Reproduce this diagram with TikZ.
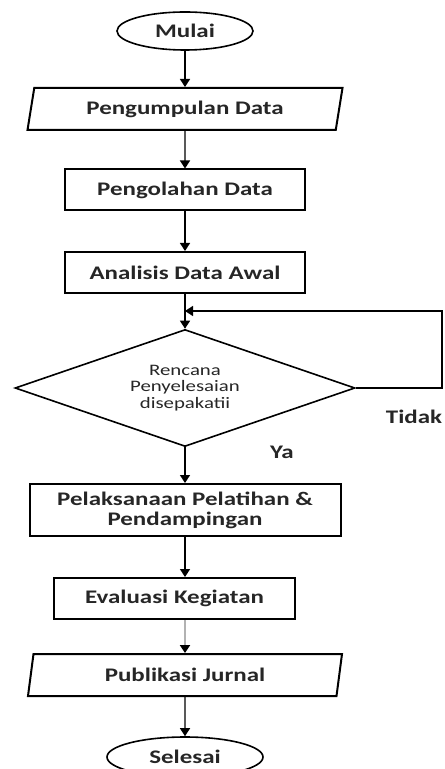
\documentclass[tikz,border=0pt]{standalone}
\usepackage{fontspec}
\setmainfont{Carlito}[FakeStretch=1.3]
\usepackage{tikz}
\usetikzlibrary{shapes.geometric, arrows.meta}

\tikzset{
  teks/.style={text=black!85, font=\bfseries\fontsize{9.6}{10}\selectfont, align=center, inner sep=0pt},
  kotak/.style={teks, draw, line width=1pt, minimum height=20.5pt},
  masukan/.style={teks, draw, line width=1pt, trapezium, trapezium left angle=68, trapezium right angle=112,
    trapezium stretches body, minimum height=21pt},
  terminal/.style={teks, draw, line width=0.8pt, ellipse, minimum height=19pt},
  keputusan/.style={teks, draw, line width=0.8pt, diamond, shape aspect=2.9, minimum width=170pt,
    minimum height=58.5pt, font=\fontsize{8}{8.3}\selectfont},
  panah/.style={line width=0.7pt, -{Triangle[length=4pt,width=5pt]}}
}

\begin{document}
\begin{tikzpicture}[x=0.5pt, y=-0.5pt]
\useasboundingbox (0,0) rectangle (444,769);
\node[terminal, minimum width=68pt] (mulai) at (185,31) {Mulai};
\node[masukan, minimum width=157.5pt] (kumpul) at (185,109) {Pengumpulan Data};
\node[kotak, minimum width=120pt] (olah) at (185,190) {Pengolahan Data};
\node[kotak, minimum width=120pt] (analisis) at (185,272.5) {Analisis Data Awal};
\node[keputusan] (putus) at (185,388) {Rencana\\Penyelesaian\\disepakatii};
\node[teks] (tidak) at (414,417) {Tidak};
\node[teks] (ya) at (282,452) {Ya};
\node[kotak, minimum width=155.5pt, minimum height=26pt] (laksana) at (185,510) {Pelaksanaan Pelatihan \&\\Pendampingan};
\node[kotak, minimum width=120.5pt] (evaluasi) at (174.5,598.5) {Evaluasi Kegiatan};
\node[masukan, minimum width=157pt] (publikasi) at (185,675) {Publikasi Jurnal};
\node[terminal, minimum width=78pt, minimum height=20pt] (selesai) at (185,757) {Selesai};

\coordinate (gabung) at (185,311);
\coordinate (sudut) at (442,311);

\foreach \dari/\ke in {mulai/kumpul, kumpul/olah, olah/analisis, analisis/putus, putus/laksana, publikasi/selesai}
  \draw[panah] (\dari) -- (\ke);
\draw[panah] (putus.east) -| (sudut) -- (gabung);
\draw[panah] (laksana.south -| mulai) -- (evaluasi.north -| mulai);
\draw[panah, draw=gray!60, line width=1.2pt, -{Triangle[length=4pt,width=5pt,color=black]}] (evaluasi.south -| mulai) -- (publikasi.north -| mulai);
\end{tikzpicture}
\end{document}
